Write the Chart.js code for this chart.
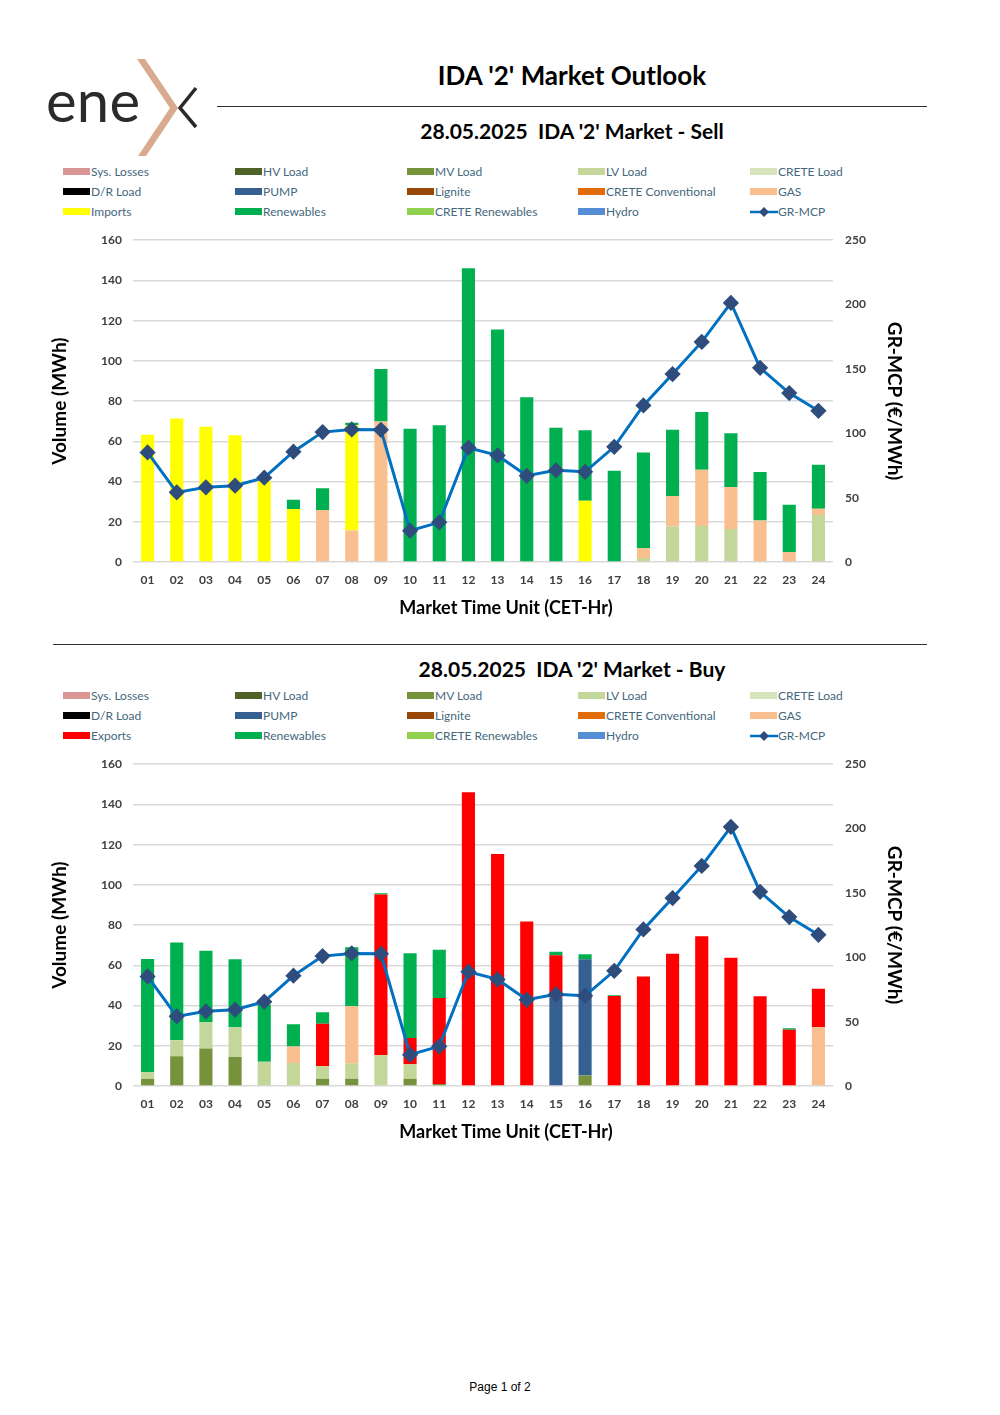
<!DOCTYPE html>
<html>
<head>
<meta charset="utf-8">
<title>IDA '2' Market Outlook</title>
<script src="https://cdn.jsdelivr.net/npm/chart.js@4.4.1/dist/chart.umd.min.js"></script>
<style>
body { margin: 0; background: #fff; font-family: Lato, "DejaVu Sans", sans-serif; }
#page { position: relative; width: 1000px; height: 1415px; overflow: hidden; }
.abs { position: absolute; }
.title { left: 217px; width: 710px; top: 59px; text-align: center; font-weight: bold; font-size: 26px; color: #000; }
.sub { left: 217px; width: 710px; text-align: center; font-weight: bold; font-size: 21px; color: #000; }
.xtitle { left: 306px; width: 400px; text-align: center; font-weight: bold; font-size: 18px; line-height: 22px; color: #000; }
.rule { height: 0; border-top: 1.5px solid #333; }
.leg { position: absolute; font-size: 12px; color: #44687d; white-space: nowrap; line-height: 14px; }
.leg .sw { display: inline-block; width: 27px; height: 7px; vertical-align: middle; margin-right: 1px; position: relative; top: -1px; }
.foot { left: 0; width: 1000px; top: 1380px; text-align: center; font-family: "Liberation Sans", Arial, sans-serif; font-size: 12px; }
canvas { display: block; }
</style>
</head>
<body>
<div id="page">
  <svg class="abs" style="left:0;top:0" width="220" height="170">
    <polygon points="137,59 145,59 178,108 146,156 138,156 170,108" fill="#d9aa8d"/>
    <polyline points="196,88 180,108 196,127" fill="none" stroke="#2b2b2b" stroke-width="3.5"/>
    <text x="46" y="122" font-family="Lato" font-weight="400" font-size="58" fill="#2b2b2b" textLength="94">ene</text>
  </svg>
  <div class="abs title">IDA '2' Market Outlook</div>
  <div class="abs rule" style="left:217px;width:710px;top:106px"></div>
  <div class="abs sub" style="top:118px">28.05.2025&nbsp;&nbsp;IDA '2' Market - Sell</div>
  <div id="legend1"></div>
  <div class="abs" style="left:0;top:221px"><canvas id="sellChart" width="1000" height="404"></canvas></div>
  <div class="abs xtitle" style="top:596px">Market Time Unit (CET-Hr)</div>
  <div class="abs rule" style="left:53px;width:874px;top:644px"></div>
  <div class="abs sub" style="top:656px">28.05.2025&nbsp;&nbsp;IDA '2' Market - Buy</div>
  <div id="legend2"></div>
  <div class="abs" style="left:0;top:745px"><canvas id="buyChart" width="1000" height="404"></canvas></div>
  <div class="abs xtitle" style="top:1120px">Market Time Unit (CET-Hr)</div>
  <div class="abs foot">Page 1 of 2</div>
</div>
<script>
// Market time units
const hours = ['01','02','03','04','05','06','07','08','09','10','11','12',
               '13','14','15','16','17','18','19','20','21','22','23','24'];

// GR-MCP (€/MWh), same for both charts
const grMcp = [85.1, 54.1, 58, 59.3, 65.5, 85.7, 100.9, 103, 102.7, 24.3, 30.8, 88.8,
               82.8, 67, 71.2, 70.1, 89.5, 121.6, 146, 171, 201.3, 150.9, 131.2, 117.5];

// Sell side (MWh)
const sellLV = [0,0,0,0,0,0,0,0,0,0,0,0, 0,0,0,0,0,2,17.6,17.9,16.4,0,0,23.4];
const sellLignite = [0,0,0,0,0,0,0,0,0,0,0,0, 0,0,0,0,0.4,0,0,0,0,0,0,0];
const sellGas = [0,0,0,0,0,0,25.9,15.6,69.8,0,0,0, 0,0,0,0,0,4.8,15.2,28,20.9,20.6,5,3.1];
const sellImports = [63.3,71.3,67.2,63,40.5,26.4,0,52.4,0,0,0,0, 0,0,0,30.5,0,0,0,0,0,0,0,0];
const sellRenewables = [0,0,0,0,0,4.6,10.8,1.2,26.2,66.2,68,146, 115.6,81.9,66.7,35,45,47.6,32.9,28.7,26.7,24.2,23.5,21.9];

// Buy side (MWh)
const buyMV = [3.6,14.8,18.7,14.4,0,0,3.6,3.6,0,3.6,1,0, 0,0,0,5.2,0,0,0,0,0,0,0,0];
const buyLV = [3.4,7.9,13,14.8,12.1,11.4,6.2,7.7,15.3,7.2,0,0, 0,0,0,0,0,0,0,0,0,0,0,0];
const buyPump = [0,0,0,0,0,0,0,0,0,0,0,0, 0,0,44,57.8,0,0,0,0,0,0,0,0];
const buyGas = [0,0,0,0,0,8.3,0,28.5,0,0,0,0, 0,0,0,0,0,0,0,0,0,0,0,29.2];
const buyExports = [0,0,0,0,0,0,21.2,0,79.9,13.1,42.8,146, 115.4,81.8,21,0,44.8,54.4,65.7,74.5,63.8,44.6,28,19.1];
const buyRenewables = [56.2,48.6,35.5,33.8,28.4,11,5.7,29.2,0.6,42.1,24,0, 0,0,1.7,2.5,0.3,0,0,0,0,0,0.7,0];

const empty = hours.map(() => 0);

// legend / stack order
const colors = {
    'Sys. Losses': '#da9694', 'HV Load': '#4f6228', 'MV Load': '#76933c', 'LV Load': '#c4d79b',
    'CRETE Load': '#d8e4bc', 'D/R Load': '#000000', 'PUMP': '#366092', 'Lignite': '#974706',
    'CRETE Conventional': '#e26b0a', 'GAS': '#fabf8f', 'Imports': '#ffff00', 'Exports': '#ff0000',
    'Renewables': '#00b050', 'CRETE Renewables': '#92d050', 'Hydro': '#558ed5'
};
const lineColor = '#0070c0';
const markerColor = '#2e4d7d';

function seriesList(flowName, data) {
    const names = ['Sys. Losses','HV Load','MV Load','LV Load','CRETE Load','D/R Load','PUMP','Lignite',
                   'CRETE Conventional','GAS', flowName,'Renewables','CRETE Renewables','Hydro'];
    return names.map(n => ({ name: n, data: data[n] || empty }));
}

const sellSeries = seriesList('Imports', {
    'LV Load': sellLV, 'Lignite': sellLignite, 'GAS': sellGas, 'Imports': sellImports, 'Renewables': sellRenewables
});
const buySeries = seriesList('Exports', {
    'MV Load': buyMV, 'LV Load': buyLV, 'PUMP': buyPump, 'GAS': buyGas, 'Exports': buyExports, 'Renewables': buyRenewables
});

// HTML legend, 5 columns x 3 rows
function buildLegend(el, series, top) {
    const cols = [63, 235, 407, 578, 750];
    const items = series.map(s => ({ name: s.name, color: colors[s.name] }));
    items.push({ name: 'GR-MCP', line: true });
    items.forEach((it, i) => {
        const d = document.createElement('div');
        d.className = 'leg';
        d.style.left = cols[i % 5] + 'px';
        d.style.top = (top + Math.floor(i / 5) * 20 - 7) + 'px';
        if (it.line) {
            d.innerHTML = '<svg width="28" height="12" style="vertical-align:middle;position:relative;top:-1px">' +
                '<line x1="0" y1="6" x2="28" y2="6" stroke="' + lineColor + '" stroke-width="2.5"/>' +
                '<polygon points="14,1 19,6 14,11 9,6" fill="' + markerColor + '"/></svg>' + it.name;
        } else {
            d.innerHTML = '<span class="sw" style="background:' + it.color + '"></span>' + it.name;
        }
        el.appendChild(d);
    });
}

const tickFont = { family: 'Lato', size: 12, weight: 'bold' };
const titleFont = { family: 'Lato', size: 19, weight: 'bold' };

function makeChart(id, series) {
    const datasets = series.map(s => ({
        type: 'bar',
        label: s.name,
        data: s.data,
        backgroundColor: colors[s.name],
        borderWidth: 0,
        stack: 'vol',
        yAxisID: 'y',
        order: 1,
        categoryPercentage: 1,
        barPercentage: 0.45
    }));
    datasets.push({
        type: 'line',
        label: 'GR-MCP',
        data: grMcp,
        yAxisID: 'y1',
        borderColor: lineColor,
        borderWidth: 3,
        pointStyle: 'rectRot',
        pointRadius: 6,
        pointBackgroundColor: markerColor,
        pointBorderColor: markerColor,
        tension: 0,
        order: 0
    });

    return new Chart(document.getElementById(id), {
        data: { labels: hours, datasets: datasets },
        options: {
            responsive: false,
            animation: false,
            layout: { padding: { top: 7, left: 44, right: 91, bottom: 0 } },
            plugins: { legend: { display: false }, tooltip: { enabled: false } },
            scales: {
                x: {
                    stacked: true,
                    grid: { display: false, drawTicks: false },
                    border: { display: false },
                    ticks: { padding: 11, color: '#404040', font: tickFont },
                    afterFit: s => { s.height = 63; }
                },
                y: {
                    stacked: true,
                    min: 0, max: 160,
                    ticks: { stepSize: 20, padding: 11, color: '#404040', font: tickFont },
                    grid: { color: '#d9d9d9', lineWidth: 1.5, drawTicks: false },
                    border: { display: false },
                    title: { display: true, text: 'Volume (MWh)', color: '#000', font: titleFont, padding: { top: 4, bottom: 0 } },
                    afterFit: s => { s.width = 89; }
                },
                y1: {
                    position: 'right',
                    min: 0, max: 250,
                    ticks: { stepSize: 50, padding: 12, color: '#404040', font: tickFont },
                    grid: { display: false, drawTicks: false },
                    border: { display: false },
                    title: { display: true, text: 'GR-MCP (€/MWh)', color: '#000', font: titleFont, padding: { top: 3, bottom: 0 } },
                    afterFit: s => { s.width = 76; }
                }
            }
        }
    });
}

buildLegend(document.getElementById('legend1'), sellSeries, 172);
buildLegend(document.getElementById('legend2'), buySeries, 696);
makeChart('sellChart', sellSeries);
makeChart('buyChart', buySeries);
</script>
</body>
</html>
